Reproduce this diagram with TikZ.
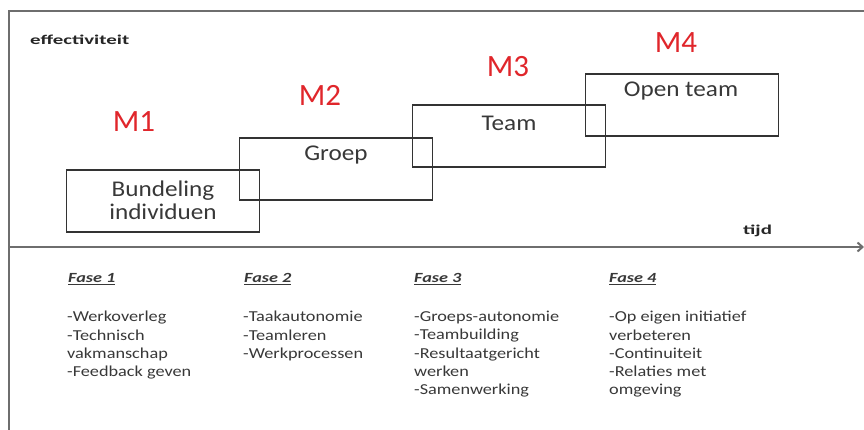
\documentclass[tikz,border=0pt]{standalone}
\usepackage{fontspec}
\setmainfont{Carlito}
\newfontfamily\wideff[FakeStretch=1.12]{Carlito}
\newfontfamily\listff[FakeStretch=1.2]{Carlito}
\newfontfamily\vwideff[FakeStretch=1.55]{Carlito}
\newfontfamily\faseff[FakeStretch=1.3]{Carlito}
\usetikzlibrary{arrows.meta}
\definecolor{linegray}{HTML}{333333}
\definecolor{framegray}{HTML}{6E6E6E}
\definecolor{textgray}{HTML}{383838}
\definecolor{mred}{HTML}{E0262B}
\tikzset{
  phasebox/.style={draw=linegray, line width=1.3pt, minimum width=193pt, minimum height=62pt, inner sep=0pt},
  boxlabel/.style={text=textgray, font=\wideff\fontsize{22.5}{24}\selectfont, align=center, inner sep=0pt},
  mlabel/.style={text=mred, font=\fontsize{31}{33}\selectfont, inner sep=0pt},
  fasehead/.style={text=textgray, font=\faseff\fontsize{14}{16}\selectfont\itshape\bfseries, anchor=base west, inner sep=0pt},
  itemlist/.style={text=textgray, font=\listff\fontsize{15.2}{18.3}\selectfont, align=left, anchor=north west, inner sep=0pt},
  smallbold/.style={text=black!85, font=\vwideff\fontsize{13.5}{15}\selectfont\bfseries, inner sep=0pt}
}
\begin{document}
\begin{tikzpicture}[x=1pt,y=-1pt]
\useasboundingbox (0,0) rectangle (864,430);
% frame
\draw[framegray, line width=2pt] (9,430) -- (9,11) -- (864,11);
% axis
\coordinate (ax0) at (9,247);
\coordinate (ax1) at (864,247);
\draw[framegray, line width=2pt, -{Straight Barb[length=5pt,width=9pt]}] (ax0) -- (ax1);
% labels
\node[smallbold, anchor=base west] (eff) at (30,45) {effectiviteit};
\node[smallbold, anchor=base west] (tijd) at (743,235) {tijd};
% boxes
\node[phasebox] (b1) at (163,201) {};
\node[phasebox] (b2) at (336,169) {};
\node[phasebox] (b3) at (509,136) {};
\node[phasebox] (b4) at (682,105) {};
\node[boxlabel, align=center] (t1) at (163,200) {Bundeling\\[-1pt]individuen};
\node[boxlabel] (t2) at (336,155) {Groep};
\node[boxlabel] (t3) at (509,123) {Team};
\node[boxlabel] (t4) at (681,91) {Open team};
% M labels
\node[mlabel] (m1) at (134,122) {M1};
\node[mlabel] (m2) at (320,95) {M2};
\node[mlabel] (m3) at (508,67) {M3};
\node[mlabel] (m4) at (676,43) {M4};
% phases
\node[fasehead] (f1) at (68,283) {\underline{Fase 1}};
\node[fasehead] (f2) at (244,283) {\underline{Fase 2}};
\node[fasehead] (f3) at (414,283) {\underline{Fase 3}};
\node[fasehead] (f4) at (609,283) {\underline{Fase 4}};
\node[itemlist] (l1) at (67,311) {-Werkoverleg\\-Technisch\\vakmanschap\\-Feedback geven};
\node[itemlist] (l2) at (243,311) {-Taakautonomie\\-Teamleren\\-Werkprocessen};
\node[itemlist] (l3) at (414,311) {-Groeps-autonomie\\-Teambuilding\\-Resultaatgericht\\werken\\-Samenwerking};
\node[itemlist] (l4) at (609,311) {-Op eigen initiatief\\verbeteren\\-Continuiteit\\-Relaties met\\omgeving};
\end{tikzpicture}
\end{document}
